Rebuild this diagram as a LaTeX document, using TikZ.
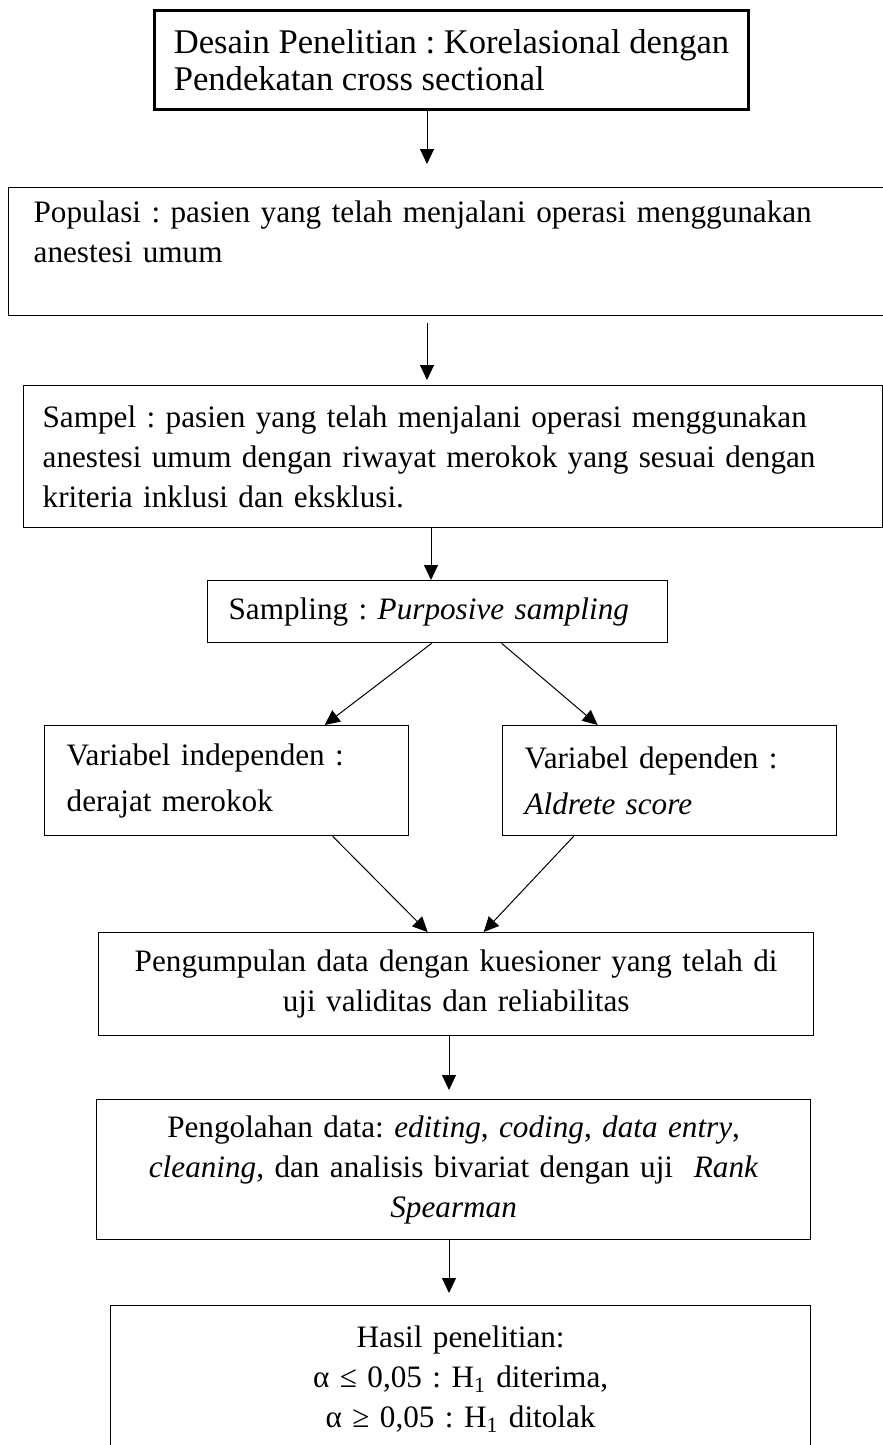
\documentclass[tikz,border=0pt]{standalone}
\usepackage{fontspec}
\setmainfont{Liberation Serif}
\usepackage{tikz}
\usetikzlibrary{arrows.meta,positioning}
\frenchspacing
\hyphenpenalty=10000
\tikzset{>={Triangle[length=7.5pt,width=7pt]},
    flowcell/.style={draw,rectangle,line width=0.65pt,anchor=north west,inner ysep=0pt,font=\fontsize{15.6}{20}\selectfont},
    leftcell/.style={flowcell,align=left},
    midcell/.style={flowcell,align=center,inner xsep=8pt,text width=340pt},
    boldcell/.style={flowcell,align=left,line width=1.5pt,font=\fontsize{17.3}{18.8}\selectfont},
    flowarrow/.style={->,line width=0.5pt}}

\begin{document}
\begin{tikzpicture}[x=0.5pt,y=-0.5pt]

\useasboundingbox (0,0) rectangle (883,1445);

\node (n0) [boldcell,minimum width=297pt,minimum height=49.5pt] at (153,9)
    {Desain Penelitian : Korelasional dengan\\ Pendekatan cross sectional};
\node (n1) [leftcell,minimum width=446pt,minimum height=64pt,inner xsep=12.5pt,text width=421pt] at (8,187)
    {Populasi : pasien yang telah menjalani operasi menggunakan\\ anestesi umum\\ \mbox{}};
\node (n2) [leftcell,minimum width=429.5pt,minimum height=71pt,inner xsep=9.5pt,text width=410.5pt] at (23,385)
    {Sampel : pasien yang telah menjalani operasi menggunakan\\ anestesi umum dengan riwayat merokok yang sesuai dengan\\ kriteria inklusi dan eksklusi.};
\node (n3) [leftcell,minimum width=230pt,minimum height=31pt,inner xsep=10.5pt,text width=209pt] at (207,580)
    {Sampling : \textit{Purposive sampling}};

\node (n4) [leftcell,minimum width=182pt,minimum height=55pt,inner xsep=11pt,text width=160pt,font=\fontsize{15.6}{23}\selectfont] at (44,725)
    {Variabel independen :\\ derajat merokok};
\node (n5) [leftcell,minimum width=167pt,minimum height=55pt,inner xsep=11pt,text width=145pt,font=\fontsize{15.6}{23}\selectfont] at (502,725)
    {Variabel dependen :\\ \textit{Aldrete score}};

\node (n6) [midcell,minimum width=357.5pt,minimum height=51.5pt] at (98,932)
    {Pengumpulan data dengan kuesioner yang telah di\\ uji validitas dan reliabilitas};
\node (n7) [midcell,minimum width=357pt,minimum height=70pt] at (96,1099)
    {Pengolahan data: \textit{editing}, \textit{coding}, \textit{data entry},\\ \textit{cleaning}, dan analisis bivariat dengan uji \ \textit{Rank}\\ \textit{Spearman}};
\node (n8) [midcell,minimum width=350pt,minimum height=73.5pt,text width=330pt] at (110,1305)
    {Hasil penelitian:\\ α ≤ 0,05 : H\textsubscript{1} diterima,\\ α ≥ 0,05 : H\textsubscript{1} ditolak};

% x of the straight arrows
\coordinate (c0) at (427,0);
\coordinate (c1) at (431,0);
\coordinate (c2) at (449,0);

\draw [flowarrow] (n0.south -| c0) -- ([yshift=11.5pt]n1.north -| c0);
\draw [flowarrow] ([yshift=-3.5pt]n1.south -| c0) -- ([yshift=2.5pt]n2.north -| c0);
\draw [flowarrow] (n2.south -| c1) -- (n3.north -| c1);

\draw [flowarrow] ([xshift=-3pt]n3.south) -- ([xshift=49pt]n4.north);
\draw [flowarrow] ([xshift=32pt]n3.south) -- ([xshift=-36pt]n5.north);
\draw [flowarrow] ([xshift=53pt]n4.south) -- ([xshift=-14.25pt]n6.north);
\draw [flowarrow] ([xshift=-48pt]n5.south) -- ([xshift=13.75pt]n6.north);

\draw [flowarrow] (n6.south -| c2) -- ([yshift=4.5pt]n7.north -| c2);
\draw [flowarrow] (n7.south -| c2) -- ([yshift=6pt]n8.north -| c2);

\end{tikzpicture}
\end{document}
